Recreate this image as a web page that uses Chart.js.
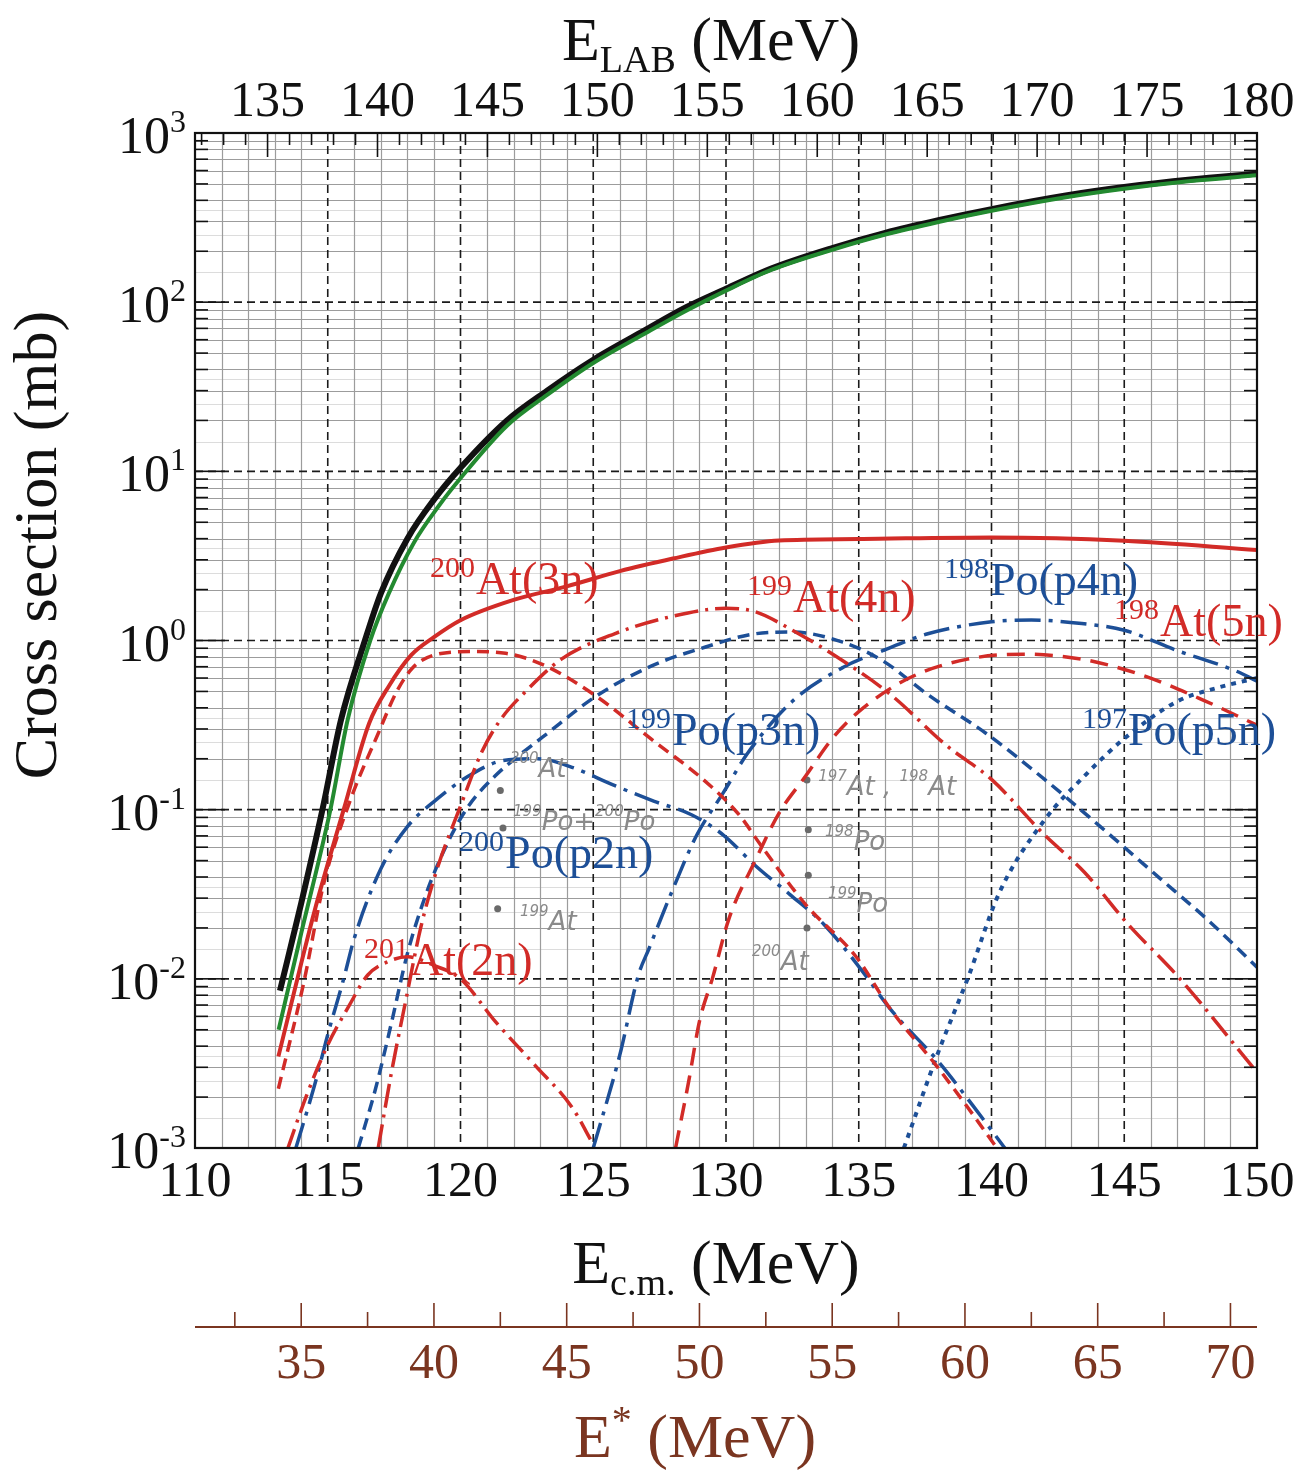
<!DOCTYPE html>
<html>
<head>
<meta charset="utf-8">
<title>Cross section vs E_cm</title>
<script src="https://cdn.jsdelivr.net/npm/chart.js@4.4.1/dist/chart.umd.min.js"></script>
<style>
  html, body { margin: 0; padding: 0; background: #fff; }
  #box { width: 1312px; height: 1471px; }
</style>
</head>
<body>
<div id="box"><canvas id="chart" width="1312" height="1471"></canvas></div>
<script>
// tick labels
const ecmTicks = [110, 115, 120, 125, 130, 135, 140, 145, 150];
const elabTicks = [135, 140, 145, 150, 155, 160, 165, 170, 175, 180];
const estarTicks = [35, 40, 45, 50, 55, 60, 65, 70];
const decades = [-3, -2, -1, 0, 1, 2, 3];

// curves: E_cm (MeV) / cross section (mb)
const totE = [113.2, 114.0, 114.8, 115.5, 116.4, 117.0, 118.0, 119.0, 120.0, 121.75, 123.25, 125.0, 126.9, 128.5, 130.0, 131.7, 134.0, 136.0, 138.0, 140.0, 142.8, 145.0, 147.5, 150.0];
const totSig = [0.0085, 0.028, 0.1, 0.34, 1.0, 1.9, 4.0, 6.8, 10.5, 20, 29.9, 45.7, 67.6, 93.3, 120, 158, 209, 257, 305, 355, 427, 479, 531, 575];

const grnE = [113.15, 114.0, 115.1, 115.75, 116.6, 117.3, 118.25, 119.2, 120.0, 121.75, 123.25, 125.0, 127.0, 128.5, 130.0, 131.7, 134.0, 136.0, 138.0, 140.0, 142.8, 145.0, 147.5, 150.0];
const grnSig = [0.005, 0.0186, 0.1, 0.34, 1.0, 1.9, 3.8, 6.3, 9.1, 18.6, 28.2, 43.7, 66, 89, 117, 155, 204, 251, 298, 347, 417, 468, 520, 562];

const sumE = [113.14, 114.5, 115.6, 116.56, 117.3, 118.15, 119.0, 120.0, 122.0, 124.0, 126.0, 128.0, 130.0, 132.0, 135.0, 140.0, 145.0, 150.0];
const sumSig = [0.00347, 0.0251, 0.1, 0.324, 0.537, 0.822, 1.047, 1.318, 1.738, 2.089, 2.57, 3.05, 3.55, 3.9, 3.98, 4.07, 3.89, 3.43];

const at2nE = [113.5, 114.2, 115.0, 115.8, 116.5, 117.2, 118.0, 119.0, 120.0, 121.3, 122.8, 124.2, 125.0];
const at2nSig = [0.001, 0.00204, 0.00407, 0.00692, 0.0105, 0.0125, 0.0135, 0.012, 0.01, 0.00562, 0.00309, 0.00174, 0.00105];

const at3nE = [113.14, 114.1, 114.86, 115.86, 116.9, 117.6, 118.2, 119.0, 120.4, 121.7, 123.1, 125.1, 127.2, 129.2, 130.5, 131.3, 133.0, 134.9, 136.2, 137.9, 139.1, 140.2];
const at3nSig = [0.00224, 0.00955, 0.0372, 0.115, 0.282, 0.5, 0.69, 0.82, 0.86, 0.84, 0.72, 0.47, 0.26, 0.148, 0.093, 0.062, 0.0275, 0.0135, 0.0066, 0.0031, 0.00174, 0.001];

const at4nE = [116.9, 117.4, 117.95, 118.5, 119.1, 120.0, 120.8, 121.5, 122.4, 123.8, 125.8, 127.9, 130.0, 131.1, 132.5, 134.4, 136.2, 138.3, 140.0, 142.0, 143.5, 145.1, 147.1, 150.0];
const at4nSig = [0.001, 0.0028, 0.0076, 0.02, 0.0437, 0.105, 0.219, 0.339, 0.49, 0.776, 1.096, 1.38, 1.55, 1.48, 1.15, 0.76, 0.479, 0.24, 0.151, 0.0708, 0.0427, 0.0214, 0.01, 0.0028];

const at5nE = [128.1, 128.6, 129.0, 129.5, 130.1, 131.1, 132.0, 133.0, 134.0, 135.0, 136.9, 139.1, 141.2, 143.4, 145.6, 147.8, 150.0];
const at5nSig = [0.001, 0.0025, 0.0056, 0.0102, 0.0224, 0.05, 0.0955, 0.158, 0.263, 0.38, 0.60, 0.776, 0.83, 0.776, 0.63, 0.457, 0.316];

const po2nE = [113.8, 114.5, 115.0, 115.6, 116.0, 117.0, 118.0, 119.1, 120.3, 121.6, 122.9, 124.2, 125.7, 127.3, 128.7, 129.9, 131.1, 132.4, 133.7, 135.06, 136.2, 138.0, 139.3, 140.5];
const po2nSig = [0.001, 0.00234, 0.00468, 0.01, 0.0174, 0.0447, 0.0794, 0.115, 0.158, 0.195, 0.2, 0.178, 0.141, 0.112, 0.0933, 0.0708, 0.0468, 0.0316, 0.0209, 0.0115, 0.0066, 0.00324, 0.00178, 0.001];

const po3nE = [116.15, 116.8, 117.4, 118.0, 118.7, 119.5, 120.3, 121.3, 122.2, 123.1, 125.1, 127.2, 129.2, 131.1, 132.5, 134.4, 135.9, 137.6, 139.8, 142.0, 144.1, 146.3, 148.2, 150.0];
const po3nSig = [0.001, 0.00224, 0.0055, 0.0141, 0.0316, 0.063, 0.105, 0.158, 0.209, 0.269, 0.468, 0.708, 0.912, 1.096, 1.122, 0.977, 0.759, 0.479, 0.282, 0.151, 0.0794, 0.0398, 0.0219, 0.0117];

const po4nE = [125.0, 126.0, 126.7, 127.1, 128.0, 128.9, 129.9, 130.8, 132.5, 134.4, 135.9, 137.6, 140.0, 141.5, 143.4, 145.0, 147.0, 149.2, 150.0];
const po4nSig = [0.001, 0.00355, 0.0105, 0.0151, 0.0339, 0.0708, 0.126, 0.214, 0.437, 0.692, 0.871, 1.096, 1.29, 1.32, 1.26, 1.15, 0.871, 0.661, 0.575];

const po5nE = [136.7, 138.0, 139.1, 140.3, 142.0, 143.5, 145.0, 147.0, 148.5, 150.0];
const po5nSig = [0.001, 0.0037, 0.01, 0.0324, 0.087, 0.158, 0.263, 0.437, 0.525, 0.6];

// pencil dots
const noteE = [121.5, 121.6, 121.4, 133.05, 133.1, 133.1, 133.05];
const noteSig = [0.13, 0.078, 0.026, 0.15, 0.076, 0.041, 0.020];

const RED = '#d22b27', BLUE = '#1d4f97', GREEN = '#238a30', BROWN = '#7a3520';
const SERIF = '"Liberation Serif", "Times New Roman", serif';

function curve(xs, ys, color, width, dash) {
  return {
    data: xs.map((e, i) => ({ x: e, y: ys[i] })),
    borderColor: color, borderWidth: width, borderDash: dash || [],
    pointRadius: 0, fill: false, cubicInterpolationMode: 'monotone',
    xAxisID: 'x', yAxisID: 'y'
  };
}

// label anchors (left of main text, baseline) in data coordinates
const curveLabels = [
  { sup: '200', txt: 'At(3n)', e: 120.58, s: 1.88, c: RED },
  { sup: '199', txt: 'At(4n)', e: 132.52, s: 1.47, c: RED },
  { sup: '198', txt: 'Po(p4n)', e: 139.94, s: 1.86, c: BLUE },
  { sup: '198', txt: 'At(5n)', e: 146.35, s: 1.06, c: RED },
  { sup: '199', txt: 'Po(p3n)', e: 127.97, s: 0.241, c: BLUE },
  { sup: '197', txt: 'Po(p5n)', e: 145.14, s: 0.241, c: BLUE },
  { sup: '200', txt: 'Po(p2n)', e: 121.68, s: 0.0452, c: BLUE },
  { sup: '201', txt: 'At(2n)', e: 118.1, s: 0.01054, c: RED }
];
const pencilNotes = [
  { parts: [['200', 1], ['At', 0]], e: 121.86, s: 0.155 },
  { parts: [['199', 1], ['Po', 0], ['+', 0], ['200', 1], ['Po', 0]], e: 121.98, s: 0.076 },
  { parts: [['199', 1], ['At', 0]], e: 122.24, s: 0.0195 },
  { parts: [['197', 1], ['At', 0], [' , ', 0], ['198', 1], ['At', 0]], e: 133.47, s: 0.122 },
  { parts: [['198', 1], ['Po', 0]], e: 133.73, s: 0.0578 },
  { parts: [['199', 1], ['Po', 0]], e: 133.84, s: 0.0248 },
  { parts: [['200', 1], ['At', 0]], e: 130.98, s: 0.01127 }
];

function hline(ctx, x1, x2, y) { ctx.beginPath(); ctx.moveTo(x1, y); ctx.lineTo(x2, y); ctx.stroke(); }
function vline(ctx, x, y1, y2) { ctx.beginPath(); ctx.moveTo(x, y1); ctx.lineTo(x, y2); ctx.stroke(); }

// text made of runs: [text, size, dy]
function runs(ctx, parts, x, y, align) {
  let w = 0;
  parts.forEach(p => { ctx.font = p[1] + 'px ' + SERIF; w += ctx.measureText(p[0]).width; });
  let cx = align === 'center' ? x - w / 2 : (align === 'right' ? x - w : x);
  parts.forEach(p => {
    ctx.font = p[1] + 'px ' + SERIF;
    ctx.fillText(p[0], cx, y + p[2]);
    cx += ctx.measureText(p[0]).width;
  });
}

const paper = {
  id: 'paper',
  beforeDatasetsDraw(chart) {
    const { ctx, chartArea: a } = chart;
    const x = chart.scales.x, y = chart.scales.y;
    ctx.save();
    ctx.lineWidth = 1;
    ctx.strokeStyle = '#dcdcdc';
    for (let d = -3; d < 3; d++) {
      [1.5, 2.5, 3.5].forEach(m => hline(ctx, a.left, a.right, Math.round(y.getPixelForValue(m * Math.pow(10, d))) + 0.5));
    }
    ctx.strokeStyle = '#9c9c9c';
    ctx.lineWidth = 1.2;
    for (let v = 111; v < 150; v++) {
      if (v % 5 === 0) continue;
      vline(ctx, Math.round(x.getPixelForValue(v)) + 0.5, a.top, a.bottom);
    }
    for (let d = -3; d < 3; d++) {
      for (let m = 2; m <= 9; m++) hline(ctx, a.left, a.right, Math.round(y.getPixelForValue(m * Math.pow(10, d))) + 0.5);
    }
    ctx.strokeStyle = '#1a1a1a';
    ctx.lineWidth = 1.6;
    ctx.setLineDash([8, 5]);
    ecmTicks.slice(1, -1).forEach(v => vline(ctx, x.getPixelForValue(v), a.top, a.bottom));
    decades.slice(1, -1).forEach(d => hline(ctx, a.left, a.right, y.getPixelForValue(Math.pow(10, d))));
    ctx.restore();
  },
  afterDatasetsDraw(chart) {
    const { ctx, chartArea: a } = chart;
    const y = chart.scales.y, xt = chart.scales.xt, xs = chart.scales.xs;
    ctx.save();
    ctx.strokeStyle = '#111';
    ctx.lineWidth = 1.6;
    // inner ticks on left and right
    for (let d = -3; d < 3; d++) {
      for (let m = 1; m <= 9; m++) {
        const py = y.getPixelForValue(m * Math.pow(10, d));
        const len = m === 1 ? 30 : 13;
        hline(ctx, a.left, a.left + len, py);
        hline(ctx, a.right - len, a.right, py);
      }
    }
    // inner ticks on top (E_LAB)
    xt.ticks.forEach(t => {
      const px = xt.getPixelForValue(t.value);
      vline(ctx, px, a.top, a.top + (t.value % 5 === 0 ? 24 : 12));
    });
    // frame
    ctx.lineWidth = 2.2;
    ctx.strokeRect(a.left, a.top, a.right - a.left, a.bottom - a.top);
    // E* axis line and ticks pointing up
    ctx.strokeStyle = BROWN;
    ctx.lineWidth = 2;
    hline(ctx, xs.left, xs.right, xs.top);
    ctx.lineWidth = 1.6;
    xs.ticks.forEach(t => {
      const px = xs.getPixelForValue(t.value);
      vline(ctx, px, xs.top, xs.top - (t.value % 5 === 0 ? 24 : 15));
    });
    ctx.restore();
  },
  afterDraw(chart) {
    const { ctx } = chart;
    const x = chart.scales.x, y = chart.scales.y;
    ctx.save();
    ctx.textBaseline = 'alphabetic';
    ctx.fillStyle = '#111';
    // y tick labels 10^n
    decades.forEach(d => {
      const py = y.getPixelForValue(Math.pow(10, d));
      const ex = String(d);
      ctx.font = '32px ' + SERIF;
      const we = ctx.measureText(ex).width;
      ctx.font = '52px ' + SERIF;
      const wb = ctx.measureText('10').width;
      const right = 186;
      ctx.fillText('10', right - we - wb, py + 20);
      ctx.font = '32px ' + SERIF;
      ctx.fillText(ex, right - we, py - 1);
    });
    // y title
    ctx.save();
    ctx.translate(56, 545);
    ctx.rotate(-Math.PI / 2);
    ctx.font = '62px ' + SERIF;
    ctx.textAlign = 'center';
    ctx.fillText('Cross section (mb)', 0, 0, 470);
    ctx.restore();
    // axis titles
    runs(ctx, [['E', 62, 0], ['LAB', 38, 12], [' (MeV)', 62, 0]], 711, 60, 'center');
    runs(ctx, [['E', 62, 0], ['c.m.', 38, 12], [' (MeV)', 62, 0]], 716, 1283, 'center');
    ctx.fillStyle = BROWN;
    runs(ctx, [['E', 62, 0], ['*', 40, -24], [' (MeV)', 62, 0]], 695, 1457, 'center');
    // curve labels
    curveLabels.forEach(l => {
      const px = x.getPixelForValue(l.e), py = y.getPixelForValue(l.s);
      ctx.fillStyle = l.c;
      ctx.font = '30px ' + SERIF;
      const ws = ctx.measureText(l.sup).width;
      ctx.fillText(l.sup, px - ws - 1, py - 17);
      ctx.font = '46px ' + SERIF;
      ctx.fillText(l.txt, px, py);
    });
    // pencil notes
    ctx.fillStyle = '#8a8a8a';
    pencilNotes.forEach(n => {
      let cx = x.getPixelForValue(n.e);
      const py = y.getPixelForValue(n.s);
      n.parts.forEach(p => {
        ctx.font = p[1] ? 'italic 15px "DejaVu Sans"' : 'italic 26px "DejaVu Sans"';
        ctx.fillText(p[0], cx, p[1] ? py - 14 : py);
        cx += ctx.measureText(p[0]).width;
      });
    });
    ctx.restore();
  }
};

function range(a, b, s) { const r = []; for (let v = a; v <= b + 1e-9; v += s) r.push({ value: Math.round(v * 10) / 10 }); return r; }

const tickFont = { family: 'Liberation Serif', size: 50 };

new Chart(document.getElementById('chart'), {
  type: 'line',
  data: {
    datasets: [
      curve(grnE, grnSig, GREEN, 4),
      curve(totE, totSig, '#111', 6),
      curve(sumE, sumSig, RED, 4),
      curve(at3nE, at3nSig, RED, 3.5, [12, 7]),
      curve(at4nE, at4nSig, RED, 3.5, [24, 7, 3, 7]),
      curve(at5nE, at5nSig, RED, 3.5, [18, 10]),
      curve(at2nE, at2nSig, RED, 3.5, [20, 7, 3, 7]),
      curve(po2nE, po2nSig, BLUE, 3.5, [26, 8, 4, 8]),
      curve(po3nE, po3nSig, BLUE, 3.5, [12, 7]),
      curve(po4nE, po4nSig, BLUE, 3.5, [26, 8, 4, 8]),
      curve(po5nE, po5nSig, BLUE, 4, [5, 6]),
      {
        data: noteE.map((e, i) => ({ x: e, y: noteSig[i] })),
        showLine: false, pointRadius: 3.5, pointBorderWidth: 0,
        pointBackgroundColor: '#6a6a6a', xAxisID: 'x', yAxisID: 'y'
      }
    ]
  },
  options: {
    responsive: false,
    animation: false,
    devicePixelRatio: 1,
    layout: { padding: { left: 0, right: 55, top: 0, bottom: 0 } },
    plugins: { legend: { display: false }, tooltip: { enabled: false } },
    scales: {
      x: {
        type: 'linear', axis: 'x', position: 'bottom', weight: 0, min: 110, max: 150,
        afterBuildTicks: s => { s.ticks = range(110, 150, 1); },
        afterFit: s => { s.height = 179; },
        grid: { display: false, drawTicks: false }, border: { display: false },
        ticks: { autoSkip: false, maxRotation: 0, padding: 5, color: '#111', font: tickFont,
                 callback: v => ecmTicks.includes(v) ? String(v) : '' }
      },
      xs: {
        type: 'linear', axis: 'x', position: 'bottom', weight: 1, min: 31, max: 71,
        afterBuildTicks: s => { s.ticks = range(32.5, 70, 2.5); },
        afterFit: s => { s.height = 144; },
        grid: { display: false, drawTicks: false }, border: { display: false },
        ticks: { autoSkip: false, maxRotation: 0, padding: 8, color: BROWN, font: tickFont,
                 callback: v => estarTicks.includes(v) ? String(v) : '' }
      },
      xt: {
        type: 'linear', axis: 'x', position: 'top', min: 131.7, max: 180,
        afterBuildTicks: s => { s.ticks = range(132, 180, 1); },
        afterFit: s => { s.height = 133; },
        grid: { display: false, drawTicks: false }, border: { display: false },
        ticks: { autoSkip: false, maxRotation: 0, padding: 0, color: '#111', font: tickFont,
                 callback: v => elabTicks.includes(v) ? String(v) : '' }
      },
      y: {
        type: 'logarithmic', position: 'left', min: 1e-3, max: 1e3,
        afterFit: s => { s.width = 195; },
        grid: { display: false, drawTicks: false }, border: { display: false },
        ticks: { display: false }
      }
    }
  },
  plugins: [paper]
});
</script>
</body>
</html>
